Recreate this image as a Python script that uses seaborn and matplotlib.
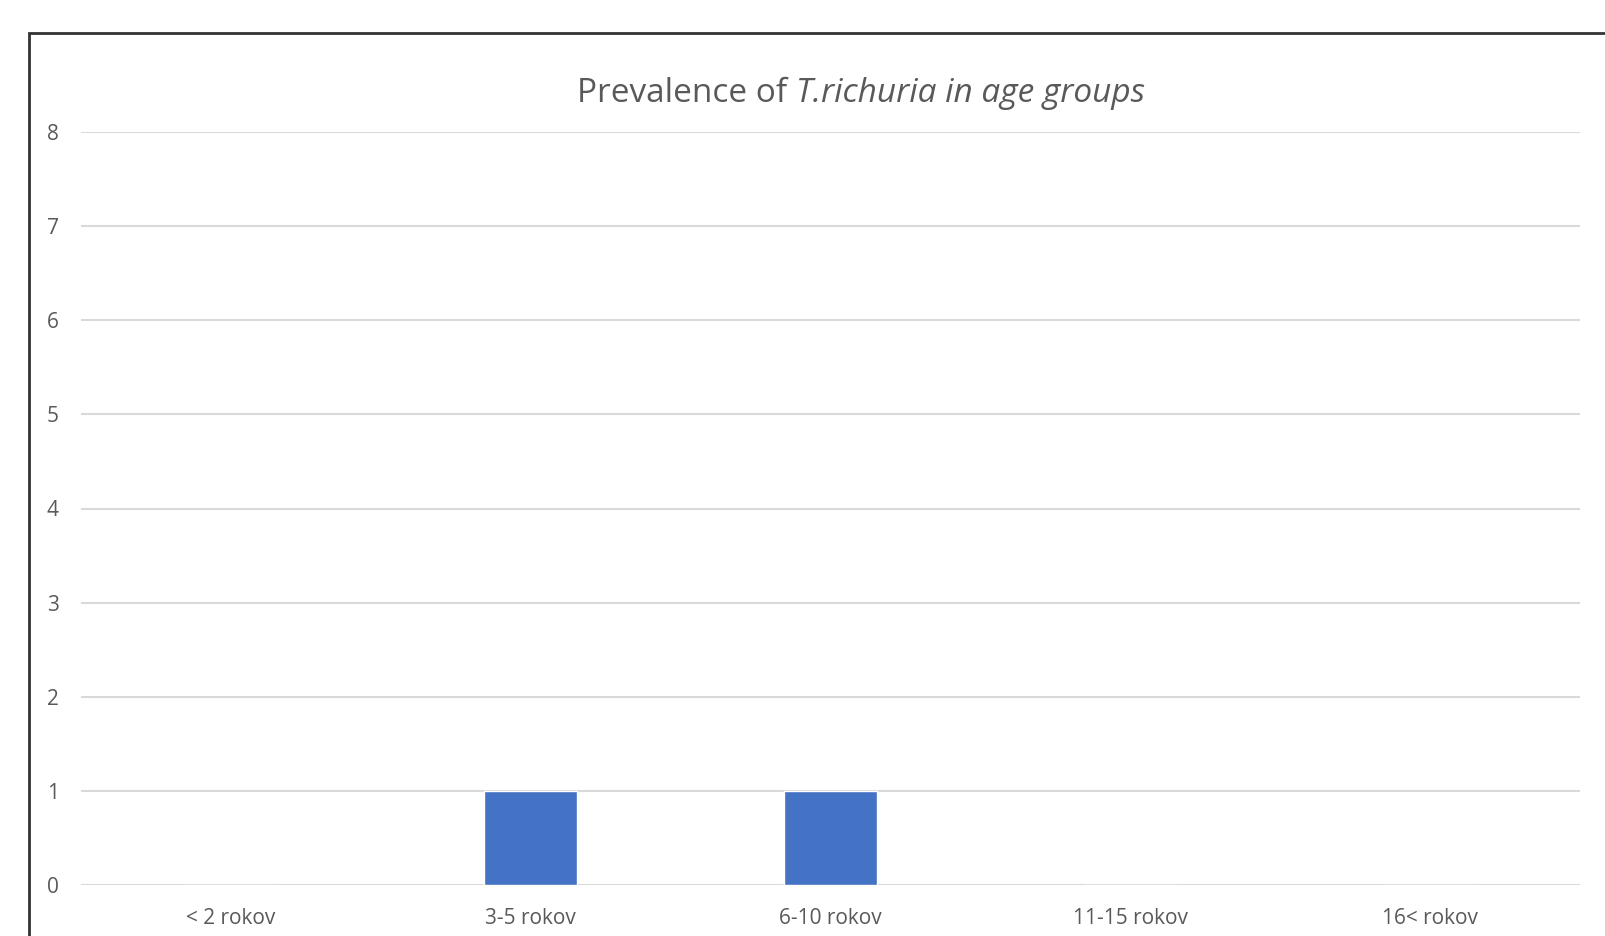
import matplotlib
matplotlib.use("Agg")
import seaborn as sns
import matplotlib.pyplot as plt
from matplotlib.patches import Rectangle

age_groups = ["< 2 rokov", "3-5 rokov", "6-10 rokov", "11-15 rokov", "16< rokov"]
cases = [0, 1, 1, 0, 0]
y_ticks = [0, 1, 2, 3, 4, 5, 6, 7, 8]

sns.set_style("white")
plt.rcParams['font.family'] = ['Open Sans', 'DejaVu Sans']

W, H = 1605, 936
fig = plt.figure(figsize=(W / 100, H / 100), dpi=100)
ax = fig.add_axes([81 / W, 1 - 885 / H, (1580 - 81) / W, (885 - 132) / H])

sns.barplot(x=age_groups, y=cases, color="#4472C4", width=0.31, saturation=1, ax=ax, zorder=3)

ax.set_ylim(0, 8)
ax.set_yticks(y_ticks)
ax.yaxis.grid(True, color="#D9D9D9", linewidth=1.5, zorder=0)
ax.set_axisbelow(True)
for s in ax.spines.values():
    s.set_visible(False)
ax.tick_params(axis="both", length=0, labelsize=15, labelcolor="#595959")
ax.tick_params(axis="y", pad=16)
ax.tick_params(axis="x", pad=16.5)
ax.set_xlabel("")
ax.set_ylabel("")

# outer chart frame (cropped at right/bottom)
fig.patches.append(Rectangle((29 / W, -0.1), 1.2, 1.1 - 33 / H, transform=fig.transFigure,
                             fill=False, edgecolor="#333333", linewidth=2))

# title: regular part + italic species part
renderer = fig.canvas.get_renderer()
t1 = fig.text(0, 1 - 93 / H, "Prevalence of ", ha="left", va="center",
              fontsize=24, color="#595959")
t2 = fig.text(0, 1 - 93 / H, "T.richuria in age groups", ha="left", va="center",
              fontsize=24, color="#595959", style="italic")
w1 = t1.get_window_extent(renderer).width
w2 = t2.get_window_extent(renderer).width
x0 = 841 * W / 1568 - (w1 + w2) / 2
t1.set_x(x0 / W)
t2.set_x((x0 + w1) / W)

fig.savefig("out.png", dpi=100)
